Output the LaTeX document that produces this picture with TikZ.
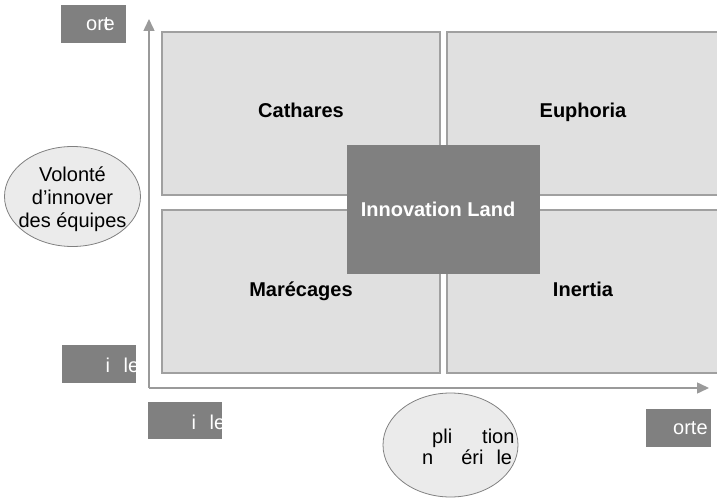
\documentclass[tikz,border=0pt]{standalone}
\usepackage{fontspec}
\setmainfont{Liberation Sans}
\usetikzlibrary{arrows.meta,shapes.geometric}
\definecolor{cellfill}{HTML}{E0E0E0}
\definecolor{cellline}{HTML}{A0A0A0}
\definecolor{darkcell}{HTML}{808080}
\definecolor{axisgray}{HTML}{9A9A9A}
\definecolor{bubblefill}{HTML}{EBEBEB}
\tikzset{
  quadrant/.style={draw=cellline, line width=1.4bp, fill=cellfill, minimum width=278bp, minimum height=163bp, inner sep=0pt, text height=14bp, text depth=5bp, font=\bfseries\fontsize{20bp}{23bp}\selectfont, text=black},
  core/.style={fill=darkcell, minimum width=193bp, minimum height=129bp, inner sep=0pt, text height=14bp, text depth=0bp, font=\bfseries\fontsize{20bp}{23bp}\selectfont, text=white},
  axis/.style={draw=axisgray, line width=1.5bp, -{Triangle[length=12bp,width=11bp]}},
  bubble/.style={ellipse, draw=darkcell, line width=0.8bp, fill=bubblefill, inner sep=0pt},
  tag/.style={fill=darkcell, inner sep=0pt, anchor=north west},
  tagtext/.style={text=white, inner sep=0pt, anchor=base west, font=\fontsize{20bp}{23bp}\selectfont},
  plain/.style={inner sep=0pt, font=\fontsize{20bp}{23bp}\selectfont, text=black}
}
\begin{document}
\begin{tikzpicture}[x=1bp,y=-1bp]
\useasboundingbox (0,0) rectangle (717,499);
\clip (0,0) rectangle (717,499);

% four quadrants
\node[quadrant] (cathares) at (301,113.5) {Cathares};
\node[quadrant, minimum width=272bp] (euphoria) at (583,113.5) {Euphoria};
\node[quadrant] (marecages) at (301,291.5) {Marécages};
\node[quadrant, minimum width=272bp] (inertia) at (583,291.5) {Inertia};

% central zone
\node[core] (land) at (443.5,209.5) {Innovation Land\hspace*{11bp}};

% axes
\coordinate (origin) at (149,388);
\coordinate (ytip) at (149,19);
\coordinate (xtip) at (709,388);
\draw[axis] (origin) -- (ytip);
\draw[axis] (origin) -- (xtip);

% axis bubbles
\node[bubble, minimum width=136bp, minimum height=100bp] (will) at (72.5,196.5) {};
\node[plain, align=center] (willtext) at (72.5,199) {Volonté\\d’innover\\des équipes};
\node[bubble, minimum width=135bp, minimum height=104bp] (appl) at (450.5,445) {};
\node[plain, anchor=base west] (appl1) at (432,443) {pli\hspace{30bp}tion};
\node[plain, anchor=base west] (appl2) at (422,464) {n\hspace{28bp}éri\hspace{13bp}le};

% axis end tags
\node[tag, minimum width=65bp, minimum height=38bp] (ytop) at (61,5) {};
\node[tagtext] (ytoptext) at (86,31) {ort\kern-6bp e};

\node[tag, minimum width=74bp, minimum height=38bp] (ylow) at (62,345) {};
\begin{scope}
  \clip (62,345) rectangle (136,383);
  \node[tagtext] (ylowtext) at (105.5,372) {i\hspace{13.5bp}le};
\end{scope}

\node[tag, minimum width=74bp, minimum height=37bp] (xlow) at (148,402) {};
\begin{scope}
  \clip (148,402) rectangle (222,439);
  \node[tagtext] (xlowtext) at (191.5,429) {i\hspace{13.5bp}le};
\end{scope}

\node[tag, minimum width=65bp, minimum height=38bp] (xhigh) at (646,409) {};
\node[tagtext] (xhightext) at (673,434) {orte};
\end{tikzpicture}
\end{document}
